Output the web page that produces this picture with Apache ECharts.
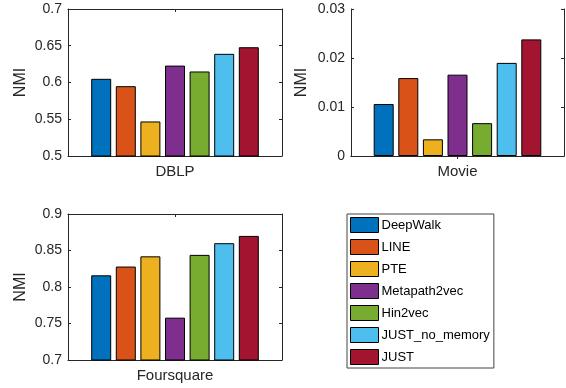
<!DOCTYPE html>
<html>
<head>
<meta charset="utf-8">
<script src="https://cdn.jsdelivr.net/npm/echarts@6/dist/echarts.min.js"></script>
<style>html,body{margin:0;padding:0;background:#fff;}#c{width:566px;height:388px;}</style>
</head>
<body>
<div id="c"></div>
<script>
const methods = ['DeepWalk', 'LINE', 'PTE', 'Metapath2vec', 'Hin2vec', 'JUST_no_memory', 'JUST'];
const colors = ['#0072BD', '#D95319', '#EDB120', '#7E2F8E', '#77AC30', '#4DBEEE', '#A2142F'];
const datasets = ['DBLP', 'Movie', 'Foursquare'];
const nmiDBLP = [0.605, 0.595, 0.547, 0.623, 0.615, 0.639, 0.648];
const nmiMovie = [0.0106, 0.0159, 0.0034, 0.0166, 0.0067, 0.0190, 0.0238];
const nmiFoursquare = [0.816, 0.828, 0.842, 0.758, 0.844, 0.860, 0.870];
const ticksDBLP = [0.5, 0.55, 0.6, 0.65, 0.7];
const ticksMovie = [0, 0.01, 0.02, 0.03];
const ticksFoursquare = [0.7, 0.75, 0.8, 0.85, 0.9];

const values = [nmiDBLP, nmiMovie, nmiFoursquare];
const ticks = [ticksDBLP, ticksMovie, ticksFoursquare];
const grids = [
  {left: 68, top: 9, width: 214, height: 147},
  {left: 351, top: 9, width: 213, height: 147},
  {left: 68, top: 214, width: 214, height: 146}
];
const nameGaps = [39, 41, 39];
const FONT = '"Liberation Sans", Arial, Helvetica, sans-serif';
const AX = '#262626';

const xAxis = [], yAxis = [], series = [];
grids.forEach((g, i) => {
  const t = ticks[i];
  const mn = t[0], mx = t[t.length - 1], iv = +(t[1] - t[0]).toFixed(6);
  xAxis.push({
    type: 'category', gridIndex: i, data: [datasets[i]], position: 'bottom',
    axisLine: {show: true, lineStyle: {color: AX, width: 1}},
    axisTick: {show: true, inside: true, length: 3, alignWithLabel: true, lineStyle: {color: AX}},
    axisLabel: {show: true, margin: 8, fontSize: 15, color: AX, fontFamily: FONT},
    splitLine: {show: false}
  });
  xAxis.push({
    type: 'category', gridIndex: i, data: [datasets[i]], position: 'top',
    axisLine: {show: true, lineStyle: {color: AX, width: 1}},
    axisTick: {show: true, inside: true, length: 3, alignWithLabel: true, lineStyle: {color: AX}},
    axisLabel: {show: false}, splitLine: {show: false}
  });
  yAxis.push({
    type: 'value', gridIndex: i, min: mn, max: mx, interval: iv, position: 'left',
    name: 'NMI', nameLocation: 'middle', nameGap: nameGaps[i],
    nameTextStyle: {fontSize: 16, color: AX, fontFamily: FONT},
    axisLine: {show: true, lineStyle: {color: AX, width: 1}},
    axisTick: {show: true, inside: true, length: 3, lineStyle: {color: AX}},
    axisLabel: {show: true, margin: 6, fontSize: 14, color: AX, fontFamily: FONT},
    splitLine: {show: false}
  });
  yAxis.push({
    type: 'value', gridIndex: i, min: mn, max: mx, interval: iv, position: 'right',
    axisLine: {show: true, lineStyle: {color: AX, width: 1}},
    axisTick: {show: true, inside: true, length: 3, lineStyle: {color: AX}},
    axisLabel: {show: false}, splitLine: {show: false}
  });
  methods.forEach((m, k) => {
    series.push({
      type: 'bar', name: m, xAxisIndex: i * 2, yAxisIndex: i * 2,
      data: [values[i][k]], barWidth: 20, barGap: '23%',
      itemStyle: {color: colors[k], borderColor: '#000', borderWidth: 1},
      emphasis: {disabled: true}, silent: true
    });
  });
});

const chart = echarts.init(document.getElementById('c'), null, {renderer: 'canvas'});
chart.setOption({
  animation: false,
  backgroundColor: '#fff',
  grid: grids.map(g => Object.assign({containLabel: false}, g)),
  xAxis: xAxis,
  yAxis: yAxis,
  legend: {
    data: methods, orient: 'vertical', left: 347, top: 214,
    itemWidth: 28, itemHeight: 15, itemGap: 6,
    padding: [3, 4, 3, 3],
    borderColor: '#444', borderWidth: 1, backgroundColor: '#fff',
    icon: 'rect',
    itemStyle: {borderColor: '#000', borderWidth: 1},
    textStyle: {fontSize: 13, color: '#000', fontFamily: FONT, padding: [0, 0, 0, -2]},
    selectedMode: false
  },
  series: series
});
</script>
</body>
</html>
